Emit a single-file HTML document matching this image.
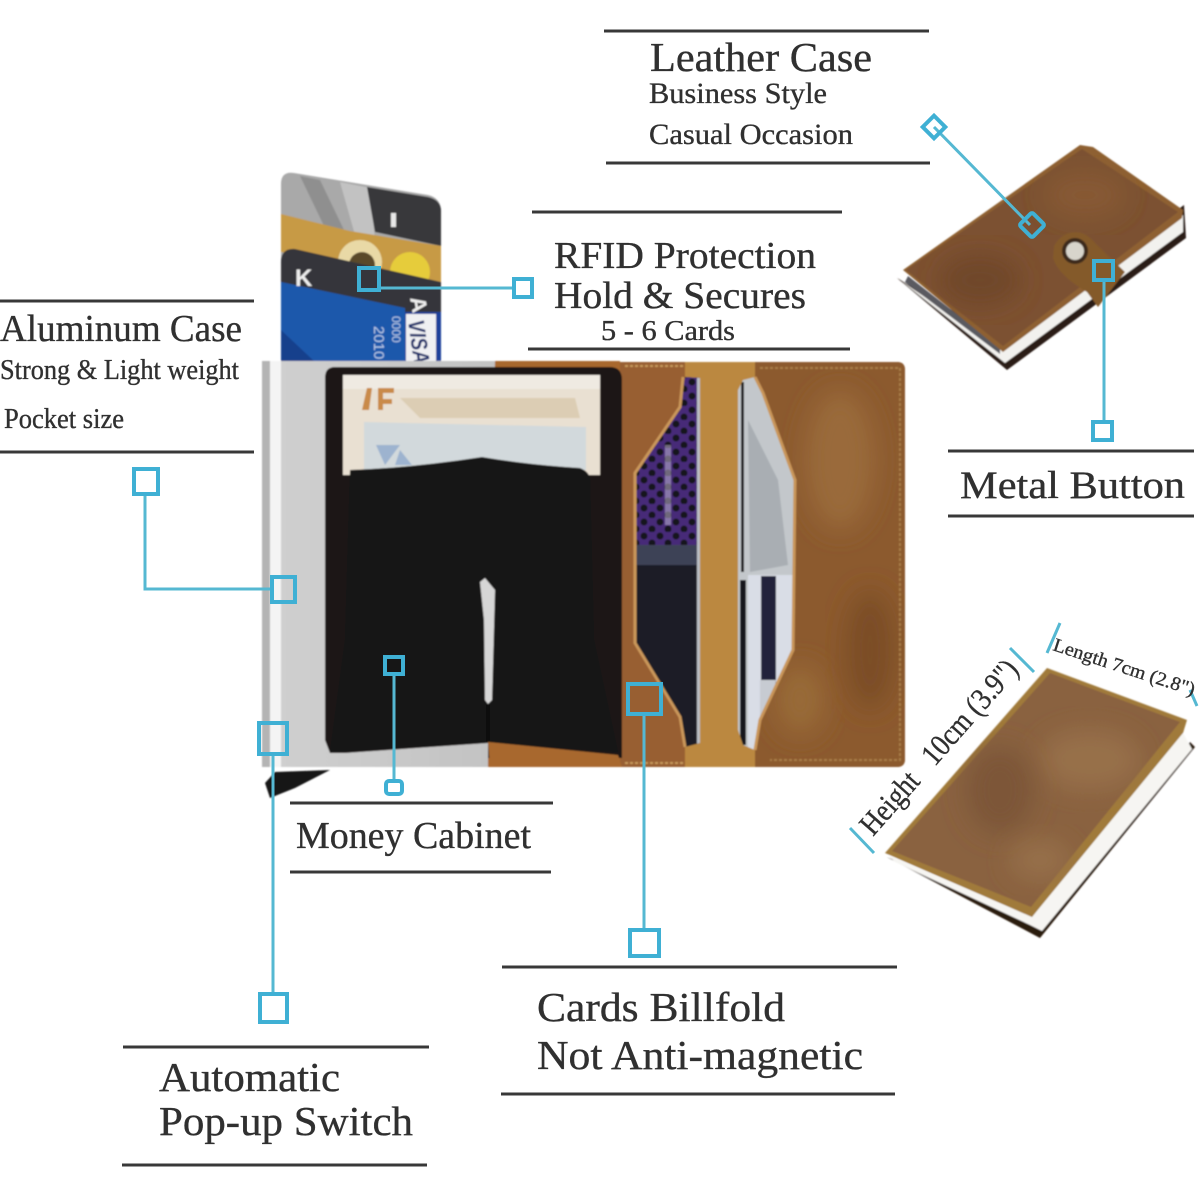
<!DOCTYPE html>
<html><head><meta charset="utf-8"><style>
html,body{margin:0;padding:0;background:#fff;width:1200px;height:1200px;overflow:hidden}
svg{display:block}
text{font-family:"Liberation Serif",serif;fill:#303030;stroke:#303030;stroke-width:.35}
.l{stroke:#383838;stroke-width:3;fill:none}
.c{stroke:#55b8d2;stroke-width:3;fill:none}
.b{stroke:#3fb0d4;stroke-width:4;fill:none}
.st{fill:none;stroke:#c9965a;stroke-width:3}
</style></head><body>
<svg width="1200" height="1200" viewBox="0 0 1200 1200" xmlns="http://www.w3.org/2000/svg">
<defs>
<filter id="bl" x="-5%" y="-5%" width="110%" height="110%"><feGaussianBlur stdDeviation="0.8"/></filter>
<filter id="bb" x="-40%" y="-40%" width="180%" height="180%"><feGaussianBlur stdDeviation="12"/></filter>
<linearGradient id="al" x1="0" y1="0" x2="1" y2="0"><stop offset="0" stop-color="#cfcfcf"/><stop offset="1" stop-color="#c2c2c2"/></linearGradient>
<pattern id="dots" width="16" height="14" patternUnits="userSpaceOnUse"><rect width="16" height="14" fill="#472c78"/><circle cx="4" cy="4" r="3.5" fill="#16121f"/><circle cx="12" cy="11" r="3.5" fill="#16121f"/></pattern>
<clipPath id="pl"><path d="M685 377L700 378V743L685 747L680 717L635 643V473L680 407Z"/></clipPath>
<clipPath id="pr"><path d="M743 380L755 377L763 393L795 480L793 650L760 720L755 750L743 745L738 730V390Z"/></clipPath>
<clipPath id="rp"><path d="M755 362H897Q905 362 905 370V759Q905 767 897 767H755Z"/></clipPath>
<clipPath id="w1"><path d="M903 270L1080 145L1093 147L1183 210L1182 218L1003 352Z"/></clipPath>
<clipPath id="w2"><path d="M885 853L1047 668L1187 720L1183 733L1032 917Z"/></clipPath>
</defs>
<rect width="1200" height="1200" fill="#fff"/>

<g filter="url(#bl)">
<!-- cards -->
<path d="M281 362V184q0-13 13-11L428 195q13 3 13 16V362Z" fill="#a9a9a9"/>
<path d="M340 182L370 188L375 240L355 235Z" fill="#c2c2c2"/>
<path d="M300 176L320 180L345 232L325 228Z" fill="#8f8f8f"/>
<path d="M367 187L428 197q13 3 13 14V246L375 232Z" fill="#38383b"/>
<rect x="391" y="213" width="5" height="14" fill="#e8e8e8"/>
<path d="M281 214L350 231L441 246V282L281 252Z" fill="#c79a44"/>
<circle cx="360" cy="262" r="22" fill="#e9d9a6"/><circle cx="362" cy="265" r="13" fill="#5a4a2c"/>
<circle cx="410" cy="272" r="20" fill="#e6cc3a"/>
<path d="M281 262q0-14 14-13L441 282V362H281Z" fill="#35353a"/>
<path d="M281 282L405 308V362H281Z" fill="#1f58ab"/>
<path d="M281 330L315 362H281Z" fill="#143f8c"/>
<rect x="405" y="312" width="36" height="50" fill="#1b3f9a"/>
<rect x="406" y="314" width="30" height="48" fill="#f0f0f2"/>
<text x="408" y="321" transform="rotate(82 408 321)" font-size="23" font-weight="bold" font-style="italic" style="fill:#1c2f6b;stroke:none;font-family:'Liberation Sans',sans-serif" textLength="44" lengthAdjust="spacingAndGlyphs">VISA</text>
<text x="374" y="326" transform="rotate(90 374 326)" font-size="15" style="fill:#b9cbe8;stroke:none;font-family:'Liberation Sans',sans-serif">2010</text>
<text x="392" y="316" transform="rotate(90 392 316)" font-size="12" style="fill:#b9cbe8;stroke:none;font-family:'Liberation Sans',sans-serif">0000</text>
<text x="295" y="286" font-size="24" font-weight="bold" style="fill:#eee;stroke:none;font-family:'Liberation Sans',sans-serif">K</text>
<text x="410" y="298" font-size="22" font-weight="bold" transform="rotate(80 410 298)" style="fill:#eee;stroke:none;font-family:'Liberation Sans',sans-serif">A</text>

<!-- aluminium case -->
<rect x="280" y="361" width="220" height="406" fill="url(#al)"/>
<rect x="270" y="361" width="11" height="406" fill="#f4f4f4"/>
<rect x="262" y="361" width="8" height="406" fill="#b4b4b4"/>
<path d="M265 783L275 772L330 770L295 788L270 798Z" fill="#181818"/>

<!-- open leather -->
<path d="M495 361L620 361V767H488V743Z" fill="#a8682f"/>
<path d="M620 362H897Q905 362 905 370V759Q905 767 897 767H620Z" fill="#985e30"/>
<rect x="685" y="362" width="72" height="405" fill="#bb8840"/>
<g clip-path="url(#rp)">
<rect x="755" y="362" width="150" height="405" fill="#8c5a2e"/>
<ellipse cx="840" cy="460" rx="35" ry="70" fill="#9a6a3a" filter="url(#bb)"/>
<ellipse cx="800" cy="700" rx="25" ry="35" fill="#986a38" filter="url(#bb)"/>
<ellipse cx="870" cy="650" rx="25" ry="60" fill="#7c4e26" filter="url(#bb)"/>
</g>
<path d="M760 368H900V760H770" fill="none" stroke="#a97e46" stroke-width="2" stroke-dasharray="3 2"/>
<path d="M625 366H685M625 763H685" fill="none" stroke="#c79a5c" stroke-width="2" stroke-dasharray="3 2"/>

<!-- left pocket -->
<g clip-path="url(#pl)">
<rect x="630" y="370" width="72" height="380" fill="#1c1b27"/>
<rect x="630" y="370" width="72" height="175" fill="url(#dots)"/>
<rect x="635" y="545" width="65" height="20" fill="#3c4257"/>
<rect x="697" y="370" width="4" height="380" fill="#b9bdc4"/>
<rect x="665" y="445" width="6" height="80" fill="#c8c0d8" opacity=".5"/>
</g>
<path class="st" d="M683 377L680 407L635 473V643L680 717L685 747"/>
<!-- right pocket -->
<g clip-path="url(#pr)">
<rect x="735" y="370" width="65" height="385" fill="#c3c7cb"/>
<path d="M748 420L778 480L788 565L750 572Z" fill="#a9aeb3"/>
<rect x="748" y="575" width="50" height="175" fill="#d9dde6"/>
<rect x="761" y="576" width="15" height="112" fill="#23233a"/>
<rect x="740" y="580" width="6" height="165" fill="#15151a"/>
<rect x="741" y="382" width="3" height="190" fill="#1e1e1e"/>
<path d="M760 680H776L775 690L760 720Z" fill="#c7cbd2"/>
</g>
<path class="st" d="M755 377L763 393L795 480L793 650L760 720L755 750"/>

<!-- black insert -->
<path d="M325 378Q325 367 335 367H610Q622 367 622 380V758H488V743L345 753H330L325 740Z" fill="#1a1817"/>
<rect x="343" y="375" width="257" height="100" fill="#e9e0d2"/>
<rect x="343" y="375" width="257" height="14" fill="#efeae2"/>
<path d="M400 398H575L580 418H420Z" fill="#dccdb4"/>
<path d="M364 422L586 427V470H364Z" fill="#d2d9dc"/>
<path d="M362 410l5-22h5l-3 22zM378 388h16v5h-11v6h9v5h-9v6h-5z" fill="#c98a4a"/>
<path d="M376 445L400 445L385 465ZM400 450L412 465H395Z" fill="#9db3cf"/>
<!-- flap -->
<path d="M350 470Q410 468 482 457Q530 465 580 468Q590 472 590 480L594 640L618 752L490 742L330 752L345 640Z" fill="#191514"/>
<path d="M480 582L485 578L495 590L492 700L488 704L485 700L484 620Z" fill="#d6d6d6"/>
<rect x="486" y="704" width="4" height="38" fill="#0c0c0c"/>
<path d="M488 742L618 755L622 767H490Z" fill="#a8682f"/>

<!-- top right wallet -->
<path d="M897 278L1007 370L1186 238L1184 205L1003 340Z" fill="#2c1b12"/>
<path d="M900 280L1005 363L1183 232L1183 215L1003 350Z" fill="#f2f1ee"/>
<path d="M908 276L1000 348L1000 354L905 282Z" fill="#5a5a60"/>
<path d="M903 270L1080 145L1093 147L1183 210L1182 218L1003 352Z" fill="#8e6030"/>
<g clip-path="url(#w1)">
<path d="M906 270L1082 149L1178 212L1003 346Z" fill="#7c5130"/>
<ellipse cx="1085" cy="195" rx="40" ry="22" fill="#875a34" filter="url(#bb)"/>
<ellipse cx="980" cy="280" rx="40" ry="25" fill="#6f4729" filter="url(#bb)"/>
</g>
<path d="M1054 246Q1062 232 1076 232Q1086 232 1096 244L1125 272L1098 307L1087 292Q1058 275 1053 258Z" fill="#845a2c"/>
<circle cx="1075" cy="251" r="13" fill="#3e2c1a"/>
<circle cx="1075" cy="251" r="9" fill="#d8d5cc"/>

<!-- bottom right wallet -->
<path d="M887 857L1040 938L1195 747L1190 742L1032 917Z" fill="#2c1a10"/>
<path d="M895 862L1030 925L1042 931L1192 749L1183 733L1032 917L888 855Z" fill="#f6f5f2"/>
<path d="M885 853L1047 668L1187 720L1183 733L1032 917Z" fill="#a07a3a"/>
<g clip-path="url(#w2)">
<path d="M892 851L1050 673L1180 722L1031 907Z" fill="#8a6240"/>
<ellipse cx="1090" cy="760" rx="50" ry="30" fill="#977049" filter="url(#bb)"/>
<ellipse cx="1000" cy="790" rx="35" ry="45" fill="#7d5638" filter="url(#bb)"/>
<ellipse cx="1040" cy="860" rx="30" ry="20" fill="#967048" filter="url(#bb)"/>
</g>
</g>

<!-- header rules -->
<path class="l" d="M604 31H929M606 163H930M532 212H842M528 349H850M0 301H254M0 452H254M948 451H1194M948 516H1194M290 803H553M290 872H551M502 967H897M501 1094H895M123 1047H429M122 1165H427"/>

<!-- connectors -->
<path class="c" d="M934 127L1030 225M380 288H513M145 495V589H272M394 675V780M1104 281V421M273 755V993M644 714V930"/>
<g class="b">
<rect x="926" y="119" width="16" height="16" transform="rotate(45 934 127)"/>
<rect x="1023" y="216" width="18" height="18" rx="2" transform="rotate(45 1032 225)"/>
<rect x="359" y="268" width="20" height="22"/>
<rect x="514" y="279" width="18" height="18"/>
<rect x="134" y="469" width="24" height="25"/>
<rect x="272" y="577" width="23" height="25"/>
<rect x="385" y="657" width="18" height="17"/>
<rect x="386" y="781" width="16" height="13" rx="3"/>
<rect x="1094" y="261" width="19" height="19"/>
<rect x="1093" y="422" width="19" height="18"/>
<rect x="259" y="723" width="28" height="31"/>
<rect x="260" y="994" width="27" height="28"/>
<rect x="628" y="684" width="33" height="30"/>
<rect x="630" y="930" width="29" height="26"/>
</g>
<path class="c" d="M850 828L874 853M1010 648L1034 672M1060 623L1047 653M1190 690L1197 706"/>

<!-- labels -->
<text x="650" y="71" font-size="41" textLength="222" lengthAdjust="spacingAndGlyphs">Leather Case</text>
<text x="649" y="103" font-size="30" textLength="178" lengthAdjust="spacingAndGlyphs">Business Style</text>
<text x="649" y="144" font-size="30" textLength="204" lengthAdjust="spacingAndGlyphs">Casual Occasion</text>
<text x="554" y="268" font-size="38" textLength="262" lengthAdjust="spacingAndGlyphs">RFID Protection</text>
<text x="554" y="308" font-size="38" textLength="252" lengthAdjust="spacingAndGlyphs">Hold &amp; Secures</text>
<text x="601" y="340" font-size="28" textLength="134" lengthAdjust="spacingAndGlyphs">5 - 6 Cards</text>
<text x="0" y="341" font-size="38" textLength="242" lengthAdjust="spacingAndGlyphs">Aluminum Case</text>
<text x="0" y="379" font-size="28" textLength="239" lengthAdjust="spacingAndGlyphs">Strong &amp; Light weight</text>
<text x="4" y="428" font-size="28" textLength="120" lengthAdjust="spacingAndGlyphs">Pocket size</text>
<text x="960" y="498" font-size="39" textLength="225" lengthAdjust="spacingAndGlyphs">Metal Button</text>
<text x="296" y="848" font-size="38" textLength="235" lengthAdjust="spacingAndGlyphs">Money Cabinet</text>
<text x="537" y="1021" font-size="41" textLength="248" lengthAdjust="spacingAndGlyphs">Cards Billfold</text>
<text x="537" y="1069" font-size="41" textLength="326" lengthAdjust="spacingAndGlyphs">Not Anti-magnetic</text>
<text x="159" y="1091" font-size="41" textLength="181" lengthAdjust="spacingAndGlyphs">Automatic</text>
<text x="159" y="1135" font-size="41" textLength="254" lengthAdjust="spacingAndGlyphs">Pop-up Switch</text>
<text x="1052" y="650" font-size="19" transform="rotate(18 1052 650)" textLength="148" lengthAdjust="spacingAndGlyphs">Length 7cm (2.8")</text>
<text x="873" y="837" font-size="31" transform="rotate(-48.6 873 837)" textLength="222" lengthAdjust="spacingAndGlyphs">Height&#160;&#160;&#160;10cm (3.9")</text>
</svg>
</body></html>
